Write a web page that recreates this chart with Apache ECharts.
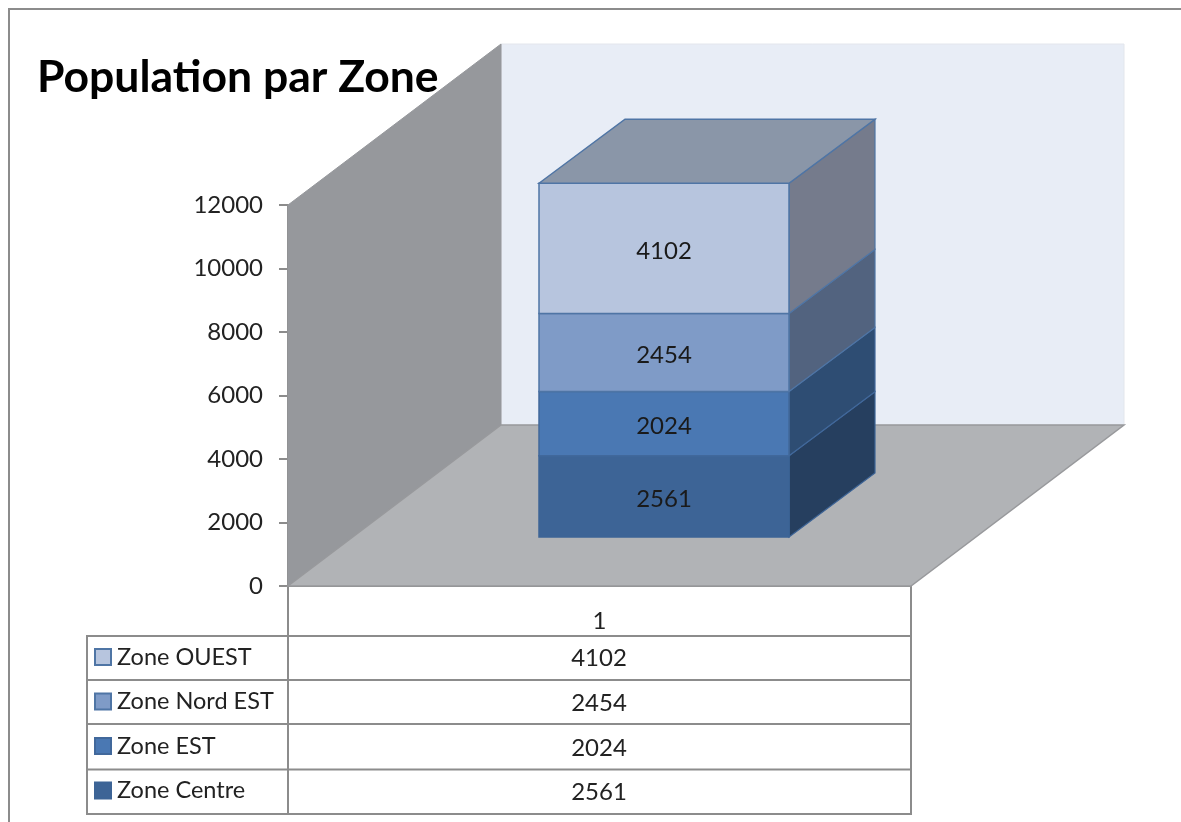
<!DOCTYPE html>
<html>
<head>
<meta charset="utf-8">
<style>html,body{margin:0;padding:0;background:#fff}#c{width:1181px;height:822px}</style>
<script src="https://cdn.jsdelivr.net/npm/echarts@6/dist/echarts.min.js"></script>
</head>
<body>
<div id="c"></div>
<script>
const categories = ['1'];
const zoneNames = ['Zone Centre', 'Zone EST', 'Zone Nord EST', 'Zone OUEST'];
const zoneCentre = [2561];
const zoneEst = [2024];
const zoneNordEst = [2454];
const zoneOuest = [4102];
const yTicks = [0, 2000, 4000, 6000, 8000, 10000, 12000];
const frontColors = ['#3d6496', '#4a78b3', '#7f9bc7', '#b7c5de'];
const sideColors = ['#263f5f', '#2e4d73', '#52637f', '#757b8c'];
const edgeColors = ['#3d6496', '#41689b', '#4f75a5', '#4f75a5'];
const topColor = '#8a96a8';

const FONT = 'Lato';
const zoneValues = [zoneCentre, zoneEst, zoneNordEst, zoneOuest];
const chart = echarts.init(document.getElementById('c'), null, {renderer: 'canvas'});

const GL = 288, GT = 205, GW = 623, GH = 381;
const FLOOR_DX = 213, FLOOR_DY = -161;      // depth of the 3D box
const BAR_OFF_X = 64.5, BAR_OFF_Y = -49;    // bar position in depth
const BAR_DX = 86, BAR_DY = -64;            // bar depth
const BAR_RATIO = 250 / 623;

function poly(points, fill, stroke, lw) {
  return {type: 'polygon', shape: {points},
    style: {fill, stroke: stroke || fill, lineWidth: lw === undefined ? 1 : lw}};
}

function renderWalls(params, api) {
  const cs = params.coordSys;
  const x0 = cs.x, x1 = cs.x + cs.width;
  const y0 = api.coord([0, 0])[1], yT = api.coord([0, yTicks[yTicks.length - 1]])[1];
  return {type: 'group', silent: true, children: [
    poly([[x0 + FLOOR_DX, yT + FLOOR_DY], [x1 + FLOOR_DX, yT + FLOOR_DY], [x1 + FLOOR_DX, y0 + FLOOR_DY], [x0 + FLOOR_DX, y0 + FLOOR_DY]], '#e8edf6', '#e3e6ec'),
    poly([[x0, yT], [x0 + FLOOR_DX, yT + FLOOR_DY], [x0 + FLOOR_DX, y0 + FLOOR_DY], [x0, y0]], '#96989c', '#96989c'),
    poly([[x0, y0], [x0 + FLOOR_DX, y0 + FLOOR_DY], [x1 + FLOOR_DX, y0 + FLOOR_DY], [x1, y0]], '#b1b3b6', '#98999c', 1.5)
  ]};
}

function makeRender(idx) {
  return function (params, api) {
    let below = 0;
    for (let i = 0; i < idx; i++) below += zoneValues[i][params.dataIndex];
    const val = api.value(1);
    const c0 = api.coord([api.value(0), below]);
    const c1 = api.coord([api.value(0), below + val]);
    const w = api.size([1, 0])[0] * BAR_RATIO;
    const cx = c0[0] + BAR_OFF_X;
    const l = cx - w / 2, r = cx + w / 2;
    const b = c0[1] + BAR_OFF_Y, t = c1[1] + BAR_OFF_Y;
    const edge = edgeColors[idx];
    const children = [
      poly([[r, b], [r + BAR_DX, b + BAR_DY], [r + BAR_DX, t + BAR_DY], [r, t]], sideColors[idx], edge, 1.2),
      {type: 'rect', shape: {x: l, y: t, width: w, height: b - t},
        style: {fill: frontColors[idx], stroke: edge, lineWidth: 1.5}}
    ];
    if (idx === zoneValues.length - 1) {
      children.push(poly([[l, t], [l + BAR_DX, t + BAR_DY], [r + BAR_DX, t + BAR_DY], [r, t]], topColor, '#4f75a5', 1.5));
    }
    children.push({type: 'text', silent: true, style: {
      x: cx, y: (t + b) / 2 + 3, text: String(val), align: 'center', verticalAlign: 'middle',
      fill: '#1a1a1a', font: '24px ' + FONT}});
    return {type: 'group', children};
  };
}

const tableGraphics = [];
function hline(x1, x2, y) {
  tableGraphics.push({type: 'line', shape: {x1, y1: y, x2, y2: y}, style: {stroke: '#8c8c8c', lineWidth: 2}, silent: true});
}
function vline(x, y1, y2) {
  tableGraphics.push({type: 'line', shape: {x1: x, y1, x2: x, y2}, style: {stroke: '#8c8c8c', lineWidth: 2}, silent: true});
}
// outer frame
hline(8, 1181, 9);
vline(9, 8, 822);
// data table
const rowLines = [636, 680, 724, 769.5, 814];
rowLines.forEach(y => hline(86, 912, y));
vline(87, 635, 815);
vline(288, 586, 815);
vline(911, 586, 815);
const rowCentres = [658, 703, 748, 792];
for (let i = 0; i < 4; i++) {
  const z = zoneValues.length - 1 - i;
  tableGraphics.push({type: 'text', silent: true, style: {
    x: 599, y: rowCentres[i], text: String(zoneValues[z][0]), align: 'center', verticalAlign: 'middle',
    fill: '#222', font: '24px ' + FONT}});
}

const series = [{
  type: 'custom', name: 'walls', coordinateSystem: 'cartesian2d', silent: true, z: 1,
  data: [[0, 0]], renderItem: renderWalls, encode: {x: 0, y: 1}
}];
zoneNames.forEach((name, i) => {
  series.push({
    type: 'custom', name, coordinateSystem: 'cartesian2d', z: 2 + i, clip: false,
    itemStyle: {color: frontColors[i], borderColor: edgeColors[i], borderWidth: 1.5},
    data: zoneValues[i].map((v, k) => [k, v]),
    renderItem: makeRender(i), encode: {x: 0, y: 1}
  });
});

chart.setOption({
  animation: false,
  backgroundColor: '#fff',
  title: {
    text: 'Population par Zone', left: 32, top: 50,
    textStyle: {fontFamily: FONT, fontWeight: 'bold', fontSize: 44.5, color: '#000'}, z: 20
  },
  grid: {left: GL, top: GT, width: GW, height: GH, containLabel: false},
  xAxis: {
    type: 'category', data: categories, boundaryGap: true,
    axisLine: {show: true, lineStyle: {color: '#8c8c8c', width: 2}},
    axisTick: {show: false},
    splitLine: {show: false},
    axisLabel: {margin: 23, fontFamily: FONT, fontSize: 24, color: '#222'}
  },
  yAxis: {
    type: 'value', min: 0, max: 12000, interval: 2000,
    axisLine: {show: true, lineStyle: {color: '#8c8c8c', width: 2}},
    axisTick: {show: true, length: 9, lineStyle: {color: '#8c8c8c', width: 2}},
    splitLine: {show: false},
    axisLabel: {margin: 25, fontFamily: FONT, fontSize: 24, color: '#222', padding: [4, 0, 0, 0],
      formatter: v => String(v)}
  },
  legend: {
    orient: 'vertical', left: 89, top: 640, itemWidth: 16, itemHeight: 16, itemGap: 20.5,
    selectedMode: false, icon: 'rect',
    data: zoneNames.slice().reverse(),
    textStyle: {fontFamily: FONT, fontSize: 23.5, color: '#222', padding: [0, 0, 0, 1]}
  },
  graphic: {elements: tableGraphics},
  series
});
</script>
</body>
</html>
